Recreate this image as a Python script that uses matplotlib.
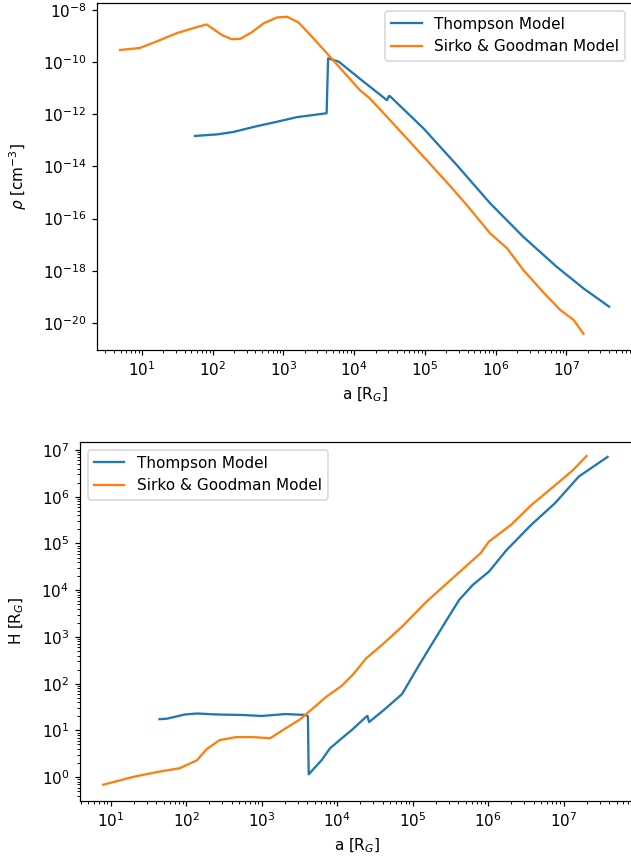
import matplotlib
matplotlib.use("Agg")
import matplotlib.pyplot as plt

# Config

DPI = 110
W_PX, H_PX = 631, 866

THOMPSON = "Thompson Model"
SIRKO = "Sirko & Goodman Model"

# Density profiles, rho [cm^-3] vs a [R_G]

rho_sg_a = [4.9, 9.3, 16, 31, 59, 82, 135, 186, 245, 355, 525, 810, 1120, 1620,
            2400, 4570, 1.2e4, 1.66e4, 3.2e4, 9.5e4, 2.3e5, 3.9e5, 8.3e5,
            1.45e6, 2.45e6, 4.8e6, 8.1e6, 1.26e7, 1.74e7]
rho_sg = [2.95e-10, 3.5e-10, 6.2e-10, 1.3e-9, 2.2e-9, 2.8e-9, 1.1e-9, 7.6e-10,
          7.9e-10, 1.4e-9, 3.1e-9, 5.2e-9, 5.5e-9, 3.4e-9, 1.1e-9, 1.6e-10,
          8.5e-12, 4.1e-12, 6.0e-13, 2.4e-14, 1.7e-15, 3.3e-16, 2.75e-17,
          7.2e-18, 1.07e-18, 1.4e-19, 3.2e-20, 1.3e-20, 3.8e-21]

rho_th_a = [56, 115, 195, 417, 813, 1550, 4070, 4270, 6030, 1.35e4, 2.9e4,
            3.1e4, 3.24e4, 9.5e4, 2.8e5, 8.3e5, 2.45e6, 7.2e6, 1.74e7, 4.0e7]
rho_th = [1.48e-13, 1.7e-13, 2.1e-13, 3.5e-13, 5.2e-13, 7.8e-13, 1.1e-12,
          1.4e-10, 1.05e-10, 1.8e-11, 3.5e-12, 5.1e-12, 4.8e-12, 2.9e-13,
          1.15e-14, 3.9e-16, 2.0e-17, 1.45e-18, 2.1e-19, 4.2e-20]

# Scale heights, H [R_G] vs a [R_G]

h_sg_a = [7.9, 20, 41, 81, 138, 186, 275, 457, 760, 1290, 1900, 3160, 4070,
          7080, 1.15e4, 1.66e4, 2.4e4, 3.9e4, 7.2e4, 1.5e5, 3.55e5, 7.9e5,
          1.02e6, 2.0e6, 3.7e6, 9.8e6, 1.32e7, 2.0e7]
h_sg = [0.69, 1.02, 1.29, 1.55, 2.3, 4.0, 6.2, 7.2, 7.2, 6.8, 10.2, 17, 24,
        52, 91, 166, 347, 676, 1660, 5600, 1.95e4, 6.2e4, 1.1e5, 2.5e5,
        6.6e5, 2.45e6, 3.7e6, 7.4e6]

h_th_a = [44, 55, 95, 138, 257, 537, 1000, 2040, 3800, 4070, 4170, 6170, 7940,
          1.07e4, 1.55e4, 2.4e4, 2.5e4, 2.63e4, 4.2e4, 7.2e4, 1.17e5, 1.7e5,
          2.8e5, 4.1e5, 6.2e5, 1.02e6, 1.74e6, 3.7e6, 7.6e6, 1.58e7, 3.8e7]
h_th = [17.4, 17.8, 21.9, 23, 21.9, 21.4, 20.4, 22.4, 21.4, 20, 1.15, 2.3,
        4.1, 6.2, 10.2, 19.5, 20.4, 15.1, 28, 60, 229, 617, 2290, 6170,
        1.29e4, 2.5e4, 7.2e4, 2.5e5, 7.2e5, 2.7e6, 7.1e6]


def px_box(left, top, right, bottom):
    # pixel box -> figure fraction [l, b, w, h]
    return [left / W_PX, (H_PX - bottom) / H_PX,
            (right - left) / W_PX, (bottom - top) / H_PX]


def main():
    fig = plt.figure(figsize=(W_PX / DPI, H_PX / DPI), dpi=DPI)

    # Density
    ax1 = fig.add_axes(px_box(97, 3, 633, 350))
    ax1.plot(rho_th_a, rho_th, label=THOMPSON)
    ax1.plot(rho_sg_a, rho_sg, label=SIRKO)
    ax1.set_xscale("log")
    ax1.set_yscale("log")
    ax1.set_xlim(10**0.364, 10**7.94)
    ax1.set_ylim(10**-21.04, 10**-7.73)
    ax1.set_xlabel(r"a [R$_G$]")
    ax1.set_ylabel(r"$\rho$ [cm$^{-3}$]", labelpad=9)
    ax1.legend(loc="upper right")

    # Scale height
    ax2 = fig.add_axes(px_box(80, 442, 634, 801))
    ax2.plot(h_th_a, h_th, label=THOMPSON)
    ax2.plot(h_sg_a, h_sg, label=SIRKO)
    ax2.set_xscale("log")
    ax2.set_yscale("log")
    ax2.set_xlim(10**0.59, 10**7.93)
    ax2.set_ylim(10**-0.51, 10**7.17)
    ax2.set_xlabel(r"a [R$_G$]")
    ax2.set_ylabel(r"H [R$_G$]", labelpad=10)
    ax2.legend(loc="upper left")

    fig.savefig("out.png", dpi=DPI)
    plt.close(fig)


if __name__ == "__main__":
    main()
